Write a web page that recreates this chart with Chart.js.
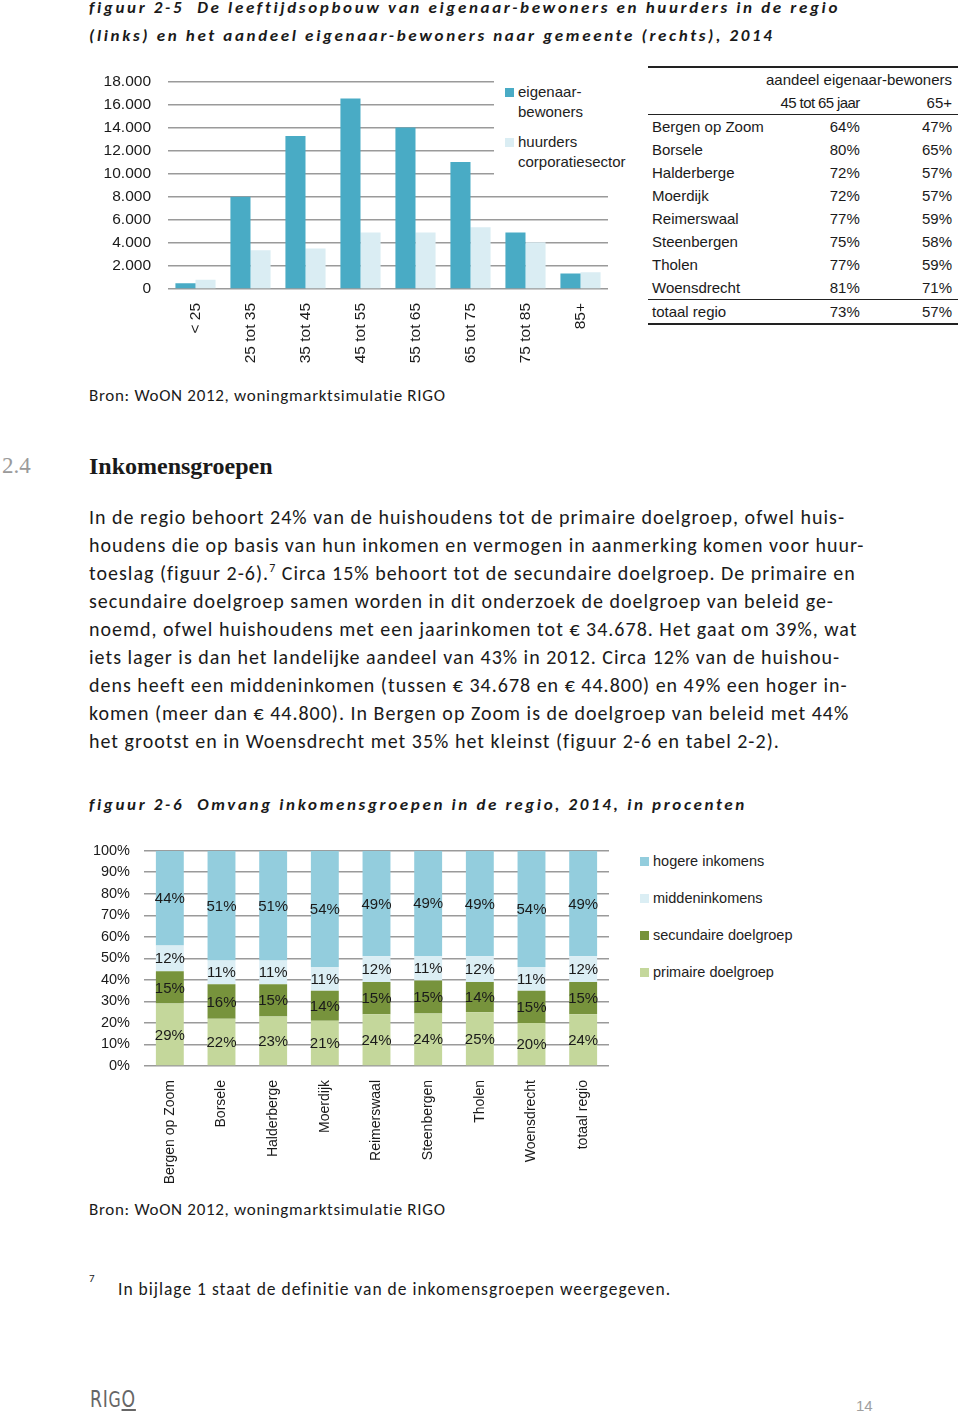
<!DOCTYPE html>
<html lang="nl">
<head>
<meta charset="utf-8">
<title>Leeftijdsopbouw en inkomensgroepen</title>
<script src="https://cdn.jsdelivr.net/npm/chart.js@4.4.1/dist/chart.umd.min.js"></script>
<style>
  html, body { margin: 0; padding: 0; background: #fff; }
  body { position: relative; width: 960px; height: 1416px; overflow: hidden; color: #1a1a1a; }
  .abs { position: absolute; }
  .figtitle { font-family: Carlito, Lato, sans-serif; font-weight: bold; font-style: italic; font-size: 17px; letter-spacing: 2.65px; line-height: 28px; white-space: pre; }
  .body { font-family: Carlito, Lato, sans-serif; font-size: 20px; letter-spacing: 1px; line-height: 28px; white-space: pre; }
  .bron { font-family: Carlito, Lato, sans-serif; font-size: 17px; letter-spacing: 0.7px; white-space: pre; }
  .legend { font-family: "Liberation Sans", Arial, sans-serif; color: #222; background: #fff; }
  .legend .item { position: absolute; white-space: pre; line-height: 20px; }
  .legend .sw { position: absolute; width: 9px; height: 9px; }
  canvas { position: absolute; }
  #tbl { position: absolute; left: 648px; top: 66px; width: 310px; border-collapse: collapse;
         font-family: "Liberation Sans", Arial, sans-serif; font-size: 15px; color: #1a1a1a; }
  #tbl td { height: 23px; padding: 0; line-height: 23px; white-space: nowrap; }
  #tbl td.n { padding-left: 4px; width: 108px; }
  #tbl td.c1 { text-align: right; width: 96px; }
  #tbl td.c2 { text-align: right; padding-right: 6px; }
</style>
</head>
<body>

<div class="abs figtitle" style="left:89px; top:-6px;">figuur 2-5  De leeftijdsopbouw van eigenaar-bewoners en huurders in de regio
(links) en het aandeel eigenaar-bewoners naar gemeente (rechts), 2014</div>

<canvas id="ageChart" width="530" height="315" style="left:90px; top:55px;"></canvas>
<div class="abs legend" id="ageLegend" style="left:494px; top:74px; width:140px; height:104px; font-size:15px;"></div>

<table id="tbl"></table>

<div class="abs bron" style="left:89px; top:385px;">Bron: WoON 2012, woningmarktsimulatie RIGO</div>

<div class="abs" style="left:2px; top:453px; font-family:'Liberation Serif', serif; font-size:23px; color:#9a9a9a;">2.4</div>
<div class="abs" style="left:89px; top:453px; font-family:'Liberation Serif', serif; font-weight:bold; font-size:24px; color:#1a1a1a;">Inkomensgroepen</div>

<div class="abs body" style="left:89px; top:503px;">In de regio behoort 24% van de huishoudens tot de primaire doelgroep, ofwel huis-
houdens die op basis van hun inkomen en vermogen in aanmerking komen voor huur-
toeslag (figuur 2-6).<sup style="font-size:12px; line-height:0;">7</sup> Circa 15% behoort tot de secundaire doelgroep. De primaire en
secundaire doelgroep samen worden in dit onderzoek de doelgroep van beleid ge-
noemd, ofwel huishoudens met een jaarinkomen tot € 34.678. Het gaat om 39%, wat
iets lager is dan het landelijke aandeel van 43% in 2012. Circa 12% van de huishou-
dens heeft een middeninkomen (tussen € 34.678 en € 44.800) en 49% een hoger in-
komen (meer dan € 44.800). In Bergen op Zoom is de doelgroep van beleid met 44%
het grootst en in Woensdrecht met 35% het kleinst (figuur 2-6 en tabel 2-2).</div>

<div class="abs figtitle" style="left:89px; top:791px;">figuur 2-6  Omvang inkomensgroepen in de regio, 2014, in procenten</div>

<canvas id="incChart" width="530" height="362" style="left:90px; top:828px;"></canvas>
<div class="abs legend" id="incLegend" style="left:629px; top:850px; width:200px; height:140px; font-size:14.5px;"></div>

<div class="abs bron" style="left:89px; top:1199px;">Bron: WoON 2012, woningmarktsimulatie RIGO</div>

<div class="abs" style="left:89px; top:1272px; font-family:Carlito, Lato, sans-serif; font-size:11px;">7</div>
<div class="abs bron" style="left:118px; top:1278px; font-size:17.5px; letter-spacing:1px;">In bijlage 1 staat de definitie van de inkomensgroepen weergegeven.</div>

<div class="abs" style="left:90px; top:1386px; font-family:'DejaVu Sans', sans-serif; font-size:23px; letter-spacing:1px; color:#666; transform:scaleX(0.75); transform-origin:left top;">RI<span style="font-size:21px;">G</span><span style="text-decoration:underline;">O</span></div>
<div class="abs" style="left:856px; top:1397px; font-family:'Liberation Sans', sans-serif; font-size:15px; color:#a0a0a0;">14</div>

<script>
// figuur 2-5 (links): leeftijdsopbouw
const ageGroups = ["< 25", "25 tot 35", "35 tot 45", "45 tot 55", "55 tot 65", "65 tot 75", "75 tot 85", "85+"];
const eigenaarBewoners = [500, 8000, 13250, 16500, 14000, 11000, 4900, 1350];
const huurdersCorporatie = [800, 3350, 3500, 4900, 4900, 5350, 4050, 1450];
const ageTicks = [0, 2000, 4000, 6000, 8000, 10000, 12000, 14000, 16000, 18000];

// figuur 2-5 (rechts): aandeel eigenaar-bewoners
const gemeenten = ["Bergen op Zoom", "Borsele", "Halderberge", "Moerdijk", "Reimerswaal", "Steenbergen", "Tholen", "Woensdrecht"];
const aandeel45tot65 = [64, 80, 72, 72, 77, 75, 77, 81];
const aandeel65plus = [47, 65, 57, 57, 59, 58, 59, 71];
const totaalRegio = [73, 57];

// figuur 2-6: inkomensgroepen (procenten)
const incCategories = ["Bergen op Zoom", "Borsele", "Halderberge", "Moerdijk", "Reimerswaal", "Steenbergen", "Tholen", "Woensdrecht", "totaal regio"];
const primaire = [29, 22, 23, 21, 24, 24.4, 25, 20, 24];
const secundaire = [15, 16, 15, 14, 15, 15.3, 14, 15, 15];
const midden = [12, 11, 11, 11, 12, 11.4, 12, 11, 12];
const hogere = [44, 51, 51, 54, 49, 48.9, 49, 54, 49];

const C_EIG = "#49abc5";
const C_HUUR = "#daedf3";
const C_HOGER = "#93cddd";
const C_MIDDEN = "#dbeef4";
const C_SEC = "#77933c";
const C_PRIM = "#c4d79b";
const GRID = "#9a9a9a";
const FONT = '"Liberation Sans", Arial, sans-serif';

Chart.defaults.font.family = FONT;
Chart.defaults.color = "#1a1a1a";

function dotThousands(v) {
  return String(v).replace(/\B(?=(\d{3})+(?!\d))/g, ".");
}

// ---- age chart ----
new Chart(document.getElementById("ageChart"), {
  type: "bar",
  data: {
    labels: ageGroups,
    datasets: [
      { label: "eigenaar-\nbewoners", data: eigenaarBewoners, backgroundColor: C_EIG },
      { label: "huurders\ncorporatiesector", data: huurdersCorporatie, backgroundColor: C_HUUR },
    ],
  },
  options: {
    responsive: false,
    animation: false,
    devicePixelRatio: 1,
    layout: { padding: { top: 11, right: 12, left: 0, bottom: 0 } },
    datasets: { bar: { barPercentage: 1, categoryPercentage: 0.73 } },
    plugins: { legend: { display: false }, tooltip: { enabled: false } },
    scales: {
      x: {
        grid: { display: false },
        border: { display: false },
        ticks: { minRotation: 90, maxRotation: 90, padding: 6, autoSkip: false, font: { size: 15.5 } },
        afterFit: (s) => { s.height = 81; },
      },
      y: {
        min: 0,
        max: 18000,
        afterBuildTicks: (s) => { s.ticks = ageTicks.map((v) => ({ value: v })); },
        grid: { color: GRID, lineWidth: 1.5, drawTicks: false },
        border: { display: false },
        ticks: { padding: 17, autoSkip: false, font: { size: 15.5 }, callback: (v) => dotThousands(v) },
        afterFit: (s) => { s.width = 78; },
      },
    },
  },
});

// legend boxes sit over the plot (white background hides the gridlines behind them)
function buildLegend(el, items, rowStep, firstTop) {
  items.forEach((it, i) => {
    const top = firstTop + i * rowStep;
    const sw = document.createElement("div");
    sw.className = "sw";
    sw.style.left = "11px";
    sw.style.top = top + "px";
    sw.style.background = it.color;
    el.appendChild(sw);
    const tx = document.createElement("div");
    tx.className = "item";
    tx.style.left = "24px";
    tx.style.top = top - 6 + "px";
    tx.textContent = it.text;
    el.appendChild(tx);
  });
}

buildLegend(document.getElementById("ageLegend"), [
  { text: "eigenaar-\nbewoners", color: C_EIG },
  { text: "huurders\ncorporatiesector", color: C_HUUR },
], 50, 14);

// ---- table ----
(function buildTable() {
  const t = document.getElementById("tbl");
  let html = "";
  html += '<tr style="border-top:2px solid #222;"><td class="n"></td><td colspan="2" class="c2">aandeel eigenaar-bewoners</td></tr>';
  html += '<tr style="border-bottom:1.5px solid #222;"><td class="n"></td><td class="c1" style="letter-spacing:-0.6px;">45 tot 65 jaar</td><td class="c2">65+</td></tr>';
  gemeenten.forEach((g, i) => {
    html += `<tr><td class="n">${g}</td><td class="c1">${aandeel45tot65[i]}%</td><td class="c2">${aandeel65plus[i]}%</td></tr>`;
  });
  html += `<tr style="border-top:1.5px solid #222; border-bottom:2px solid #222;"><td class="n">totaal regio</td><td class="c1">${totaalRegio[0]}%</td><td class="c2">${totaalRegio[1]}%</td></tr>`;
  t.innerHTML = html;
})();

// ---- income chart ----
const segmentLabels = {
  id: "segmentLabels",
  afterDatasetsDraw(chart) {
    const ctx = chart.ctx;
    ctx.save();
    ctx.font = "15px " + FONT;
    ctx.fillStyle = "#1a1a1a";
    ctx.textAlign = "center";
    ctx.textBaseline = "middle";
    chart.data.datasets.forEach((ds, i) => {
      chart.getDatasetMeta(i).data.forEach((bar, j) => {
        const p = bar.getProps(["x", "y", "base"], true);
        ctx.fillText(Math.round(ds.data[j]) + "%", p.x, (p.y + p.base) / 2 + 1);
      });
    });
    ctx.restore();
  },
};

new Chart(document.getElementById("incChart"), {
  type: "bar",
  data: {
    labels: incCategories,
    datasets: [
      { label: "primaire doelgroep", data: primaire, backgroundColor: C_PRIM },
      { label: "secundaire doelgroep", data: secundaire, backgroundColor: C_SEC },
      { label: "middeninkomens", data: midden, backgroundColor: C_MIDDEN },
      { label: "hogere inkomens", data: hogere, backgroundColor: C_HOGER },
    ],
  },
  options: {
    responsive: false,
    animation: false,
    devicePixelRatio: 1,
    layout: { padding: { top: 10, right: 11, left: 0, bottom: 0 } },
    datasets: { bar: { barPercentage: 0.54, categoryPercentage: 1 } },
    plugins: { legend: { display: false }, tooltip: { enabled: false } },
    scales: {
      x: {
        stacked: true,
        grid: { display: false },
        border: { display: false },
        ticks: { minRotation: 90, maxRotation: 90, padding: 6, autoSkip: false, font: { size: 14 } },
        afterFit: (s) => { s.height = 124; },
      },
      y: {
        stacked: true,
        min: 0,
        max: 100,
        grid: { color: GRID, lineWidth: 1.5, drawTicks: false },
        border: { display: false },
        ticks: { stepSize: 10, padding: 14, autoSkip: false, font: { size: 14.5 }, callback: (v) => v + "%" },
        afterFit: (s) => { s.width = 54; },
      },
    },
  },
  plugins: [segmentLabels],
});

buildLegend(document.getElementById("incLegend"), [
  { text: "hogere inkomens", color: C_HOGER },
  { text: "middeninkomens", color: C_MIDDEN },
  { text: "secundaire doelgroep", color: C_SEC },
  { text: "primaire doelgroep", color: C_PRIM },
], 37, 7);
</script>
</body>
</html>
